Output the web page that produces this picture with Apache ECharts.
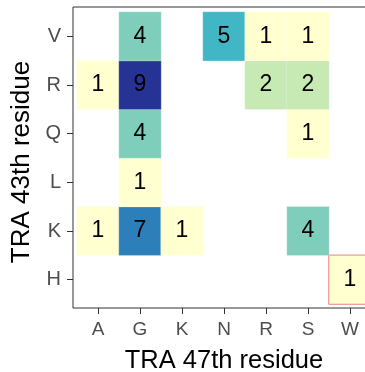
<!DOCTYPE html>
<html>
<head>
<meta charset="utf-8">
<script src="https://cdn.jsdelivr.net/npm/echarts@6/dist/echarts.min.js"></script>
<style>
html,body{margin:0;padding:0;background:#fff;overflow:hidden;}
#chart{width:365px;height:372px;}
</style>
</head>
<body>
<div id="chart"></div>
<script>
// Categories
const xCats = ['A', 'G', 'K', 'N', 'R', 'S', 'W'];   // TRA 47th residue
const yCats = ['H', 'K', 'L', 'Q', 'R', 'V'];        // TRA 43th residue (bottom to top)

// Counts per 43th-residue row, aligned with xCats (null = empty)
const countsH = [null, null, null, null, null, null, 1];
const countsK = [1, 7, 1, null, null, 4, null];
const countsL = [null, 1, null, null, null, null, null];
const countsQ = [null, 4, null, null, null, 1, null];
const countsR = [1, 9, null, null, 2, 2, null];
const countsV = [null, 4, null, 5, 1, 1, null];

// Highlighted (outlined) cell
const highlighted = [['W', 'H']];

const rows = [countsH, countsK, countsL, countsQ, countsR, countsV];
const data = [];
rows.forEach((row, yi) => {
  row.forEach((v, xi) => {
    if (v === null) return;
    const item = { value: [xi, yi, v] };
    if (highlighted.some(h => h[0] === xCats[xi] && h[1] === yCats[yi])) {
      item.itemStyle = { borderColor: '#f08080', borderWidth: 1 };
    }
    data.push(item);
  });
});

const chart = echarts.init(document.getElementById('chart'), null, { renderer: 'canvas' });
const FONT = 'Liberation Sans, Arial, Helvetica, sans-serif';
chart.setOption({
  backgroundColor: '#ffffff',
  animation: false,
  grid: [
    { left: 77, top: 12, width: 294, height: 292, show: false, outerBoundsMode: 'none', containLabel: false },
    { left: 73, top: 7, width: 302, height: 301, show: true, borderColor: '#333333', borderWidth: 1, backgroundColor: 'transparent', outerBoundsMode: 'none', containLabel: false }
  ],
  xAxis: [
    {
      type: 'category', data: xCats, gridIndex: 0, offset: 4,
      axisLine: { show: false },
      axisTick: { show: true, alignWithLabel: true, length: 6, lineStyle: { color: '#333333', width: 1 } },
      axisLabel: { color: '#4d4d4d', fontSize: 19, fontFamily: FONT, margin: 12 },
      splitLine: { show: false }, splitArea: { show: false },
      name: 'TRA 47th residue', nameLocation: 'middle', nameGap: 40,
      nameTextStyle: { color: '#000', fontSize: 25.5, fontFamily: FONT }
    },
    { type: 'value', gridIndex: 1, show: false, min: 0, max: 1 }
  ],
  yAxis: [
    {
      type: 'category', data: yCats, gridIndex: 0, offset: 4,
      axisLine: { show: false },
      axisTick: { show: true, alignWithLabel: true, length: 6, lineStyle: { color: '#333333', width: 1 } },
      axisLabel: { color: '#4d4d4d', fontSize: 20, fontFamily: FONT, margin: 12 },
      splitLine: { show: false }, splitArea: { show: false },
      name: 'TRA 43th residue', nameLocation: 'middle', nameGap: 38,
      nameTextStyle: { color: '#000', fontSize: 26, fontFamily: FONT, padding: [0, 8, 0, 0] }
    },
    { type: 'value', gridIndex: 1, show: false, min: 0, max: 1 }
  ],
  visualMap: {
    type: 'piecewise', show: false, dimension: 2, seriesIndex: 0,
    pieces: [
      { value: 1, color: '#ffffcf' },
      { value: 2, color: '#c7e9b4' },
      { value: 4, color: '#7fcdbb' },
      { value: 5, color: '#41b6c4' },
      { value: 7, color: '#2c7fb8' },
      { value: 9, color: '#253494' }
    ]
  },
  series: [{
    type: 'heatmap', xAxisIndex: 0, yAxisIndex: 0,
    data: data,
    itemStyle: { borderColor: 'rgba(255,255,255,0.5)', borderWidth: 0.5 },
    label: {
      show: true, color: '#000', fontSize: 23, fontFamily: FONT,
      formatter: p => String(p.value[2])
    },
    emphasis: { disabled: true }
  }]
});
</script>
</body>
</html>
